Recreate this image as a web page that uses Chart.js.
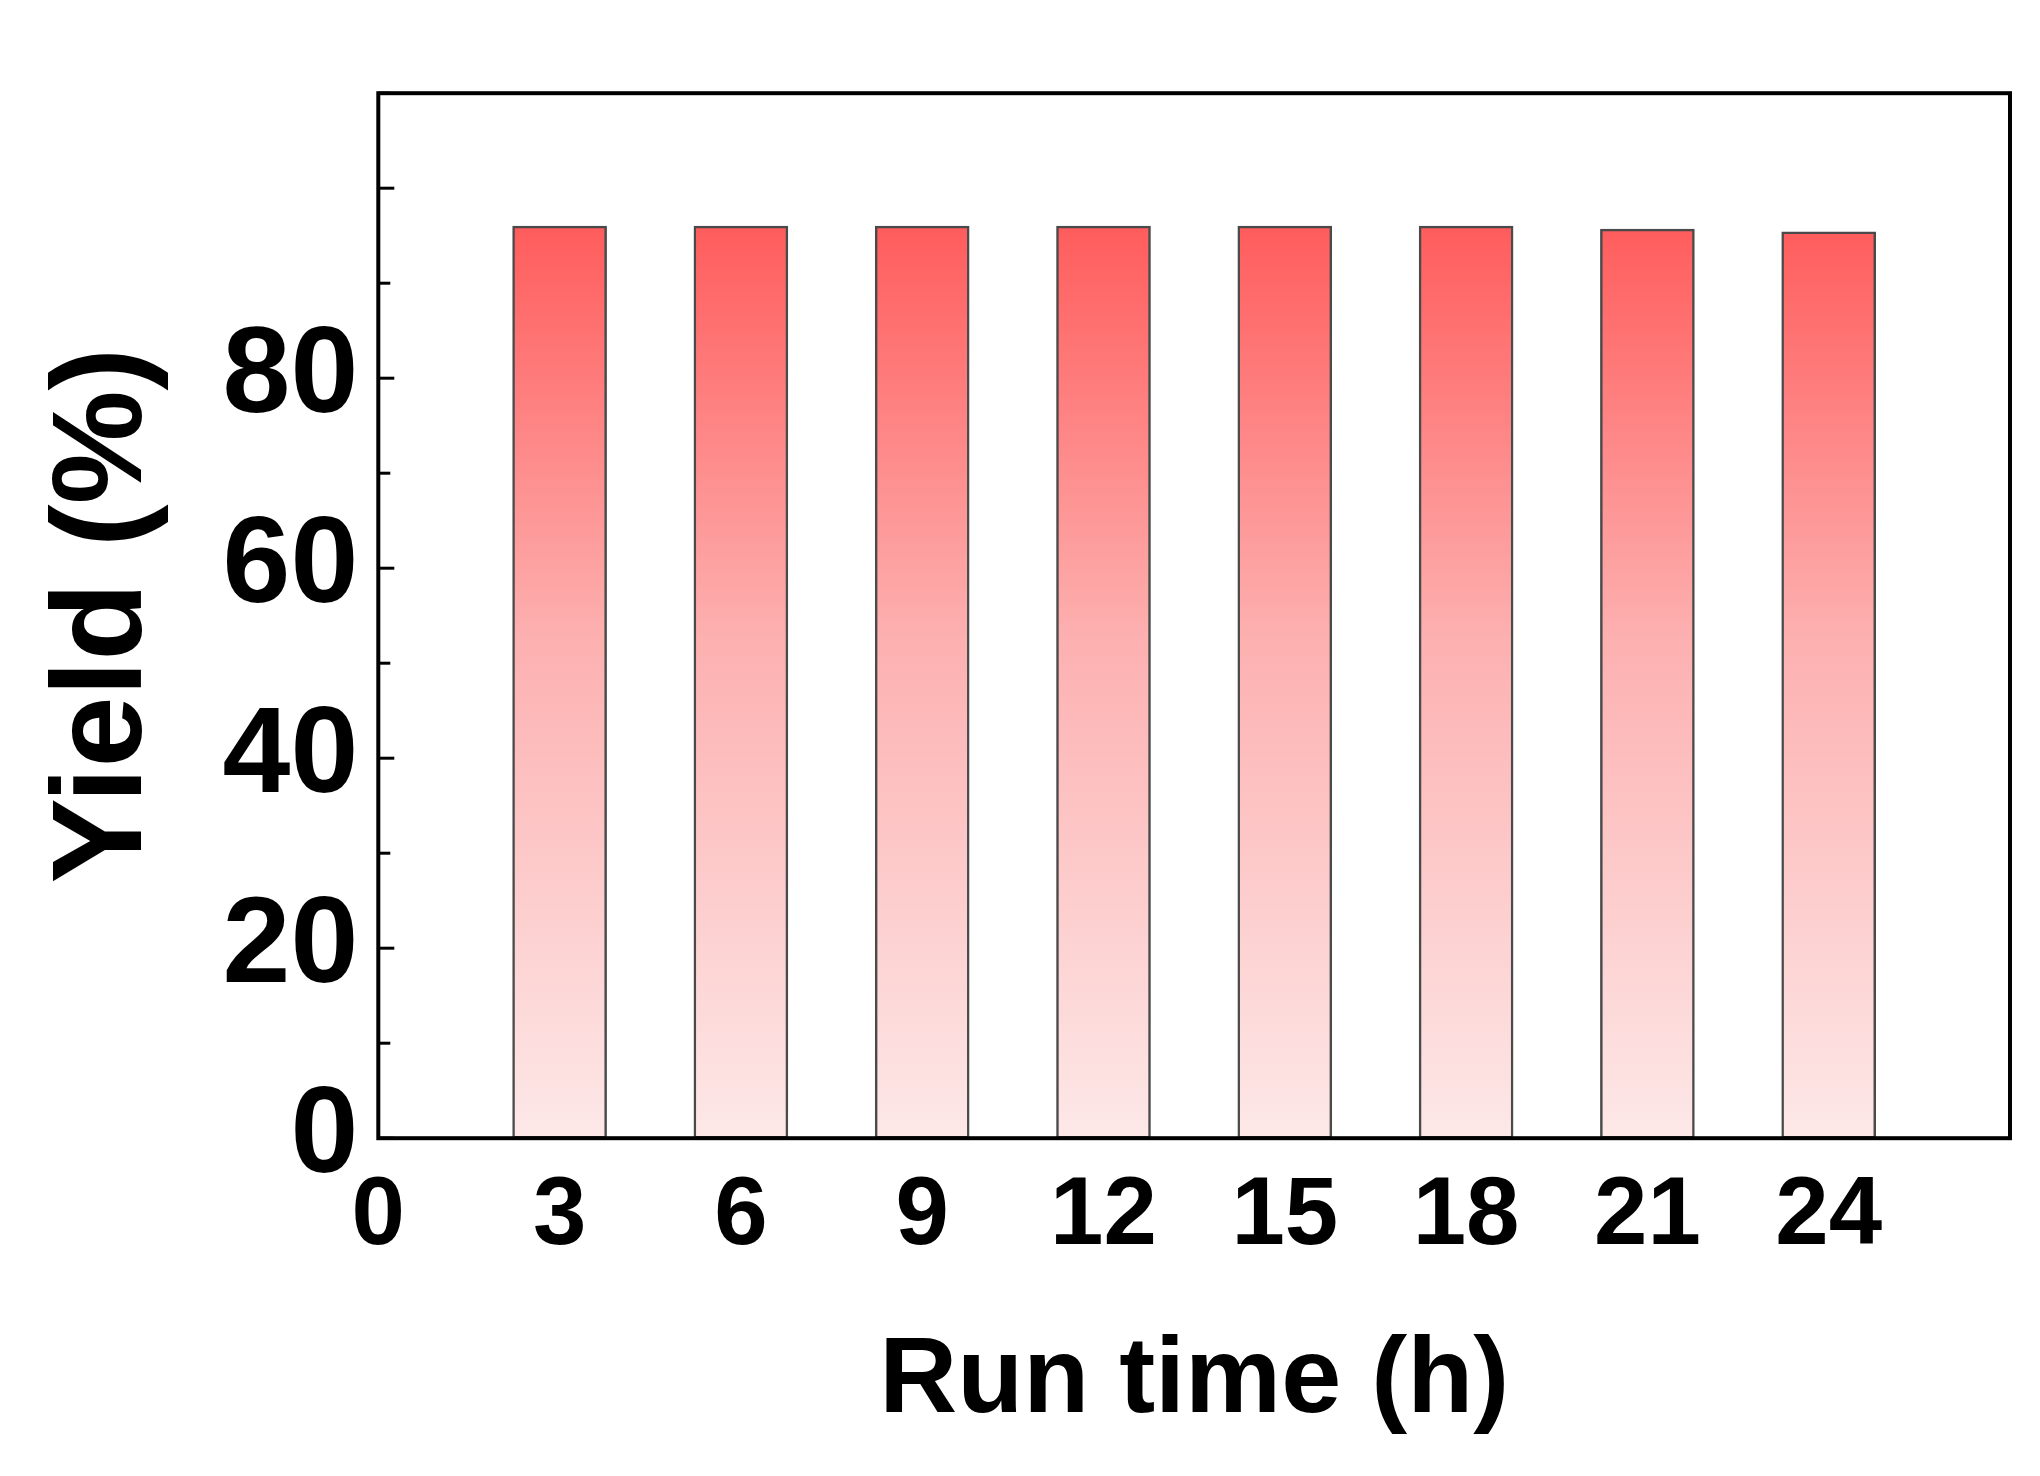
<!DOCTYPE html>
<html><head><meta charset="utf-8">
<script src="https://cdn.jsdelivr.net/npm/chart.js@4/dist/chart.umd.min.js"></script>
<style>html,body{margin:0;background:#fff}#w{width:2040px;height:1476px}</style>
</head><body><div id="w"><canvas id="c"></canvas></div>
<script>
const runTimes = [3, 6, 9, 12, 15, 18, 21, 24];
const yields = [96.0, 96.0, 96.0, 96.0, 96.0, 96.0, 95.7, 95.4];
const xTickHide = [27];

const F = 'Liberation Sans, Arial, sans-serif';
const ticksPlugin = {
  id: 'inTicks',
  afterDraw(chart) {
    const {ctx, chartArea: a, scales: {x, y}} = chart;
    ctx.save();
    ctx.strokeStyle = '#000'; ctx.lineWidth = 3;
    for (let v = 0; v <= 110; v += 10) {
      const p = y.getPixelForValue(v);
      const len = v % 20 === 0 ? 16 : 12;
      ctx.beginPath(); ctx.moveTo(a.left, p); ctx.lineTo(a.left + len, p); ctx.stroke();
    }
    ctx.lineWidth = 4;
    ctx.strokeRect(a.left, a.top, a.right - a.left, a.bottom - a.top);
    ctx.restore();
  }
};
new Chart(document.getElementById('c'), {
  type: 'bar',
  data: { datasets: [{
    data: runTimes.map((t, i) => ({x: t, y: yields[i]})),
    backgroundColor: (ctx) => {
      const ch = ctx.chart, a = ch.chartArea;
      if (!a) return '#f88';
      const ys = ch.scales.y;
      const g = ch.ctx.createLinearGradient(0, ys.getPixelForValue(96), 0, ys.getPixelForValue(0));
      g.addColorStop(0, '#ff5c5c'); g.addColorStop(0.45, '#fdb0b0'); g.addColorStop(1, '#fde8e8');
      return g;
    },
    borderColor: '#4a4a4a', borderWidth: 2.5, borderSkipped: false,
    barThickness: 94
  }]},
  options: {
    responsive: true, maintainAspectRatio: false, animation: false,
    layout: { padding: {top: 0, right: 30, left: 25, bottom: 25} },
    plugins: { legend: {display: false}, tooltip: {enabled: false} },
    scales: {
      x: { type: 'linear', min: 0, max: 27, offset: false,
        grid: {display: false, drawTicks: false}, border: {display: false},
        ticks: { stepSize: 3, padding: 22, autoSkip: false, maxRotation: 0, color: '#000', font: {family: F, size: 96, weight: 'bold'},
          callback: v => xTickHide.includes(v) ? '' : v },
        title: { display: true, text: 'Run time (h)', color: '#000', padding: {top: 20},
          font: {family: F, size: 108, weight: 'bold'} } },
      y: { min: 0, max: 110,
        grid: {display: false, drawTicks: false}, border: {display: false},
        ticks: { stepSize: 20, padding: 20, autoSkip: false, color: '#000', font: {family: F, size: 122, weight: 'bold'},
          callback: v => v > 100 ? '' : v },
        title: { display: true, text: 'Yield (%)', color: '#000', padding: {bottom: 20},
          font: {family: F, size: 128, weight: 'bold'} } }
    }
  },
  plugins: [ticksPlugin]
});
</script></body></html>
